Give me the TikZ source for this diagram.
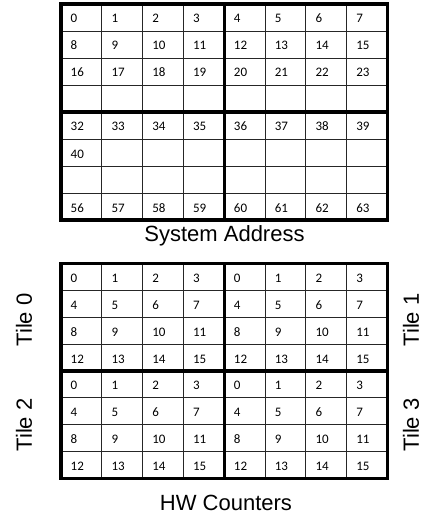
\documentclass[tikz,border=0pt]{standalone}
\usepackage{fontspec}
\setmainfont{Liberation Sans}
\newfontfamily\cellfont{Carlito}
\tikzset{
  thinline/.style={line width=0.9pt, draw=black!85},
  thickline/.style={line width=3.5pt, draw=black},
  celltext/.style={anchor=base west, inner sep=0pt, font=\cellfont\fontsize{13}{15}\selectfont},
  biglabel/.style={inner sep=0pt, font=\fontsize{22}{26}\selectfont},
}
\begin{document}
\begin{tikzpicture}[x=1pt,y=-1pt]
\useasboundingbox (0,0) rectangle (425,516);
\def\gx{61}\def\gw{326.5}\def\cw{40.8125}
% ---------- top grid ----------
\def\ty{4}\def\th{216}\def\rh{27}
\foreach \i in {1,...,7} {
  \draw[thinline] (\gx+\i*\cw,\ty) -- (\gx+\i*\cw,\ty+\th);
  \draw[thinline] (\gx,\ty+\i*\rh) -- (\gx+\gw,\ty+\i*\rh);
}
\draw[thickline] (\gx+4*\cw,\ty) -- (\gx+4*\cw,\ty+\th);
\draw[thickline] (\gx,\ty+4*\rh) -- (\gx+\gw,\ty+4*\rh);
\draw[thickline] (\gx,\ty) rectangle (\gx+\gw,\ty+\th);
\foreach \r/\c/\v in {0/0/0,0/1/1,0/2/2,0/3/3,0/4/4,0/5/5,0/6/6,0/7/7,
  1/0/8,1/1/9,1/2/10,1/3/11,1/4/12,1/5/13,1/6/14,1/7/15,
  2/0/16,2/1/17,2/2/18,2/3/19,2/4/20,2/5/21,2/6/22,2/7/23,
  4/0/32,4/1/33,4/2/34,4/3/35,4/4/36,4/5/37,4/6/38,4/7/39,
  5/0/40,
  7/0/56,7/1/57,7/2/58,7/3/59,7/4/60,7/5/61,7/6/62,7/7/63} {
  \node[celltext] (t\v) at (\gx+\c*\cw+9.5,\ty+\r*\rh+\rh/2+5.5) {\v};
}
\node[biglabel] (sysaddr) at (224.5,235.5) {System Address};
% ---------- bottom grid ----------
\def\by{263.3}\def\bh{215.4}\def\brh{26.925}
\foreach \i in {1,...,7} {
  \draw[thinline] (\gx+\i*\cw,\by) -- (\gx+\i*\cw,\by+\bh);
  \draw[thinline] (\gx,\by+\i*\brh) -- (\gx+\gw,\by+\i*\brh);
}
\draw[thickline] (\gx+4*\cw,\by) -- (\gx+4*\cw,\by+\bh);
\draw[thickline] (\gx,\by+4*\brh) -- (\gx+\gw,\by+4*\brh);
\draw[thickline] (\gx,\by) rectangle (\gx+\gw,\by+\bh);
\foreach \qr in {0,1} {
  \foreach \qc in {0,1} {
    \foreach \r in {0,...,3} {
      \foreach \c in {0,...,3} {
        \pgfmathtruncatemacro{\v}{\r*4+\c}
        \pgfmathtruncatemacro{\rr}{\qr*4+\r}
        \pgfmathtruncatemacro{\cc}{\qc*4+\c}
        \node[celltext] (h\qr\qc-\v) at (\gx+\cc*\cw+9.5,\by+\rr*\brh+\brh/2+5.5) {\v};
      }
    }
  }
}
\node[biglabel, rotate=90] (tile0) at (24,320) {Tile 0};
\node[biglabel, rotate=90] (tile2) at (24,425) {Tile 2};
\node[biglabel, rotate=90] (tile1) at (411,320) {Tile 1};
\node[biglabel, rotate=90] (tile3) at (411,425) {Tile 3};
\node[biglabel] (hwc) at (226,503) {HW Counters};
\end{tikzpicture}
\end{document}
